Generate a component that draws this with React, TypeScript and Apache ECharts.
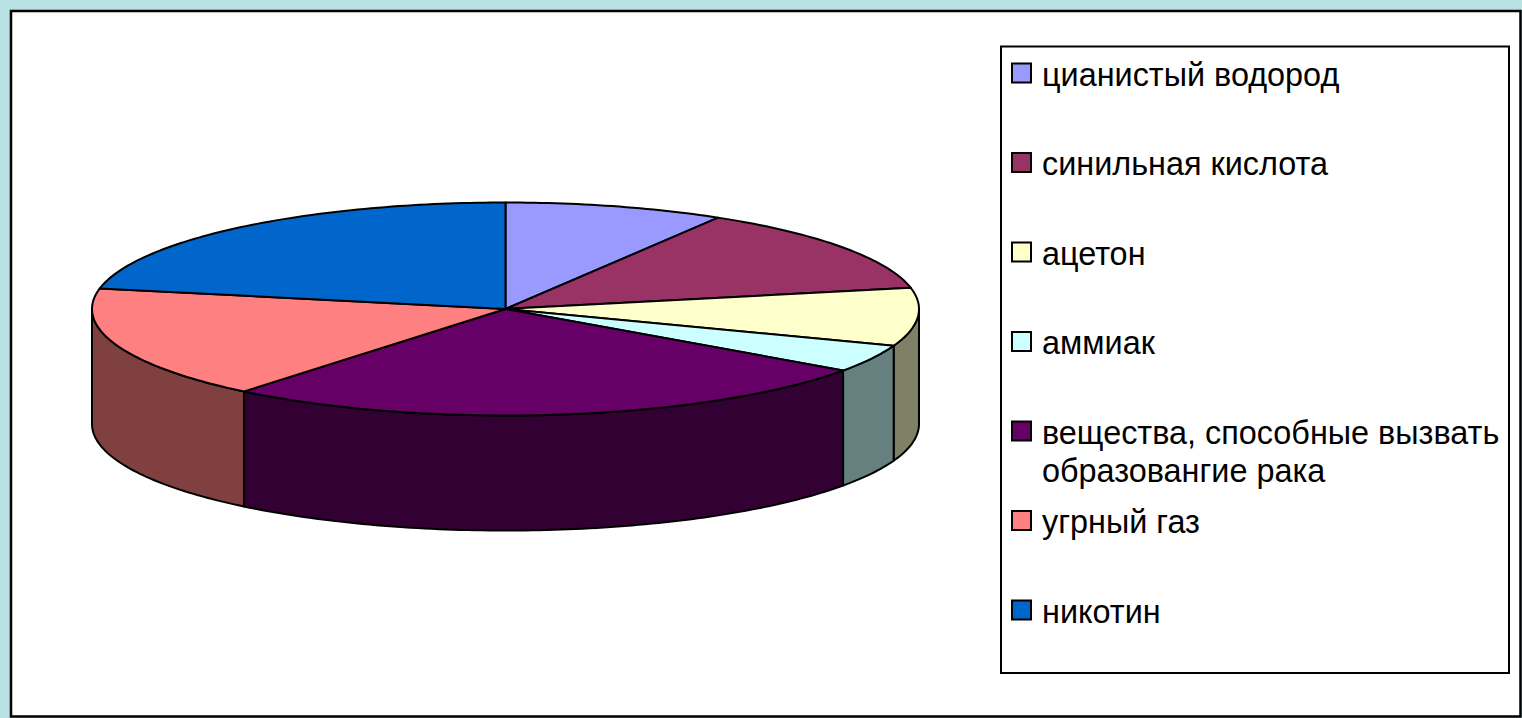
import React, { useEffect, useRef } from "react";
import * as echarts from "echarts";

const categories = [
  "цианистый водород",
  "синильная кислота",
  "ацетон",
  "аммиак",
  "вещества, способные вызвать\nобразовангие рака",
  "угрный газ",
  "никотин",
];
const values = [8.6, 13.2, 8.8, 4.2, 26.1, 17.2, 21.9];
const topColors = ["#9999FF", "#993366", "#FFFFCC", "#CCFFFF", "#660066", "#FF8080", "#0066CC"];
const sideColors = ["#4D4D80", "#4D1A33", "#808066", "#668080", "#330033", "#804040", "#003366"];

const DEPTH = 1.08; // wall height in y-axis units (top ellipse radius = 1)
const FONT = '"Liberation Sans", Arial, sans-serif';

export default function App() {
  const ref = useRef<HTMLDivElement>(null);

  useEffect(() => {
    if (!ref.current) return;
    const chart = echarts.init(ref.current, undefined, { renderer: "svg" });

    const total = values.reduce((a, b) => a + b, 0);
    let acc = 0;
    const data = values.map((v, i) => {
      const row = [acc, acc + v, i];
      acc += v;
      return row;
    });

    const renderItem = (params: any, api: any) => {
      const i = params.dataIndex;
      const a0 = (api.value(0) / total) * Math.PI * 2;
      const a1 = (api.value(1) / total) * Math.PI * 2;
      const pt = (a: number, dz: number) => api.coord([Math.sin(a), Math.cos(a) - dz]);
      const arc = (s: number, e: number, dz: number) => {
        const n = Math.max(2, Math.ceil((Math.abs(e - s) * 180) / Math.PI));
        const out: number[][] = [];
        for (let k = 0; k <= n; k++) out.push(pt(s + ((e - s) * k) / n, dz));
        return out;
      };
      const children: any[] = [];
      const s = Math.max(a0, Math.PI / 2);
      const e = Math.min(a1, (Math.PI * 3) / 2);
      if (e > s) {
        const pts = arc(s, e, 0).concat(arc(e, s, DEPTH));
        children.push({
          type: "polygon",
          z2: 1,
          shape: { points: pts },
          style: { fill: sideColors[i], stroke: "#000", lineWidth: 2, lineJoin: "round" },
        });
      }
      const topPts = [api.coord([0, 0])].concat(arc(a0, a1, 0));
      children.push({
        type: "polygon",
        z2: 10,
        shape: { points: topPts },
        style: { fill: topColors[i], stroke: "#000", lineWidth: 2, lineJoin: "round" },
      });
      return { type: "group", children };
    };

    const legendEls: any[] = [];
    categories.forEach((name, i) => {
      const mid = 74.5 + 89.5 * i;
      legendEls.push({
        type: "rect",
        shape: { x: 1012, y: mid - 11, width: 19, height: 19 },
        style: { fill: topColors[i], stroke: "#000", lineWidth: 2 },
      });
      legendEls.push({
        type: "text",
        x: 1042,
        y: mid - 19,
        style: {
          text: name,
          fill: "#000",
          font: `32.4px ${FONT}`,
          lineHeight: 38,
          verticalAlign: "top",
          align: "left",
        },
      });
    });

    chart.setOption({
      animation: false,
      textStyle: { fontFamily: FONT },
      grid: { left: 92, width: 827, top: 202.5, height: 213 },
      xAxis: { type: "value", min: -1, max: 1, show: false },
      yAxis: { type: "value", min: -1, max: 1, show: false },
      graphic: [
        {
          type: "rect",
          z: -10,
          shape: { x: 11, y: 11, width: 1509.5, height: 705.5 },
          style: { fill: "#fff", stroke: "#000", lineWidth: 2.5 },
        },
        {
          type: "rect",
          z: -5,
          shape: { x: 1001, y: 46.5, width: 508, height: 626.5 },
          style: { fill: "#fff", stroke: "#000", lineWidth: 2 },
        },
        { type: "group", z: 5, children: legendEls },
      ],
      series: [
        {
          type: "custom",
          coordinateSystem: "cartesian2d",
          renderItem,
          data,
          clip: false,
          silent: true,
        },
      ],
    });

    return () => chart.dispose();
  }, []);

  return (
    <div
      style={{ position: "fixed", left: 0, top: 0, width: 1522, height: 718, background: "#b9e0e3" }}
    >
      <div ref={ref} style={{ width: 1522, height: 718 }} />
    </div>
  );
}
